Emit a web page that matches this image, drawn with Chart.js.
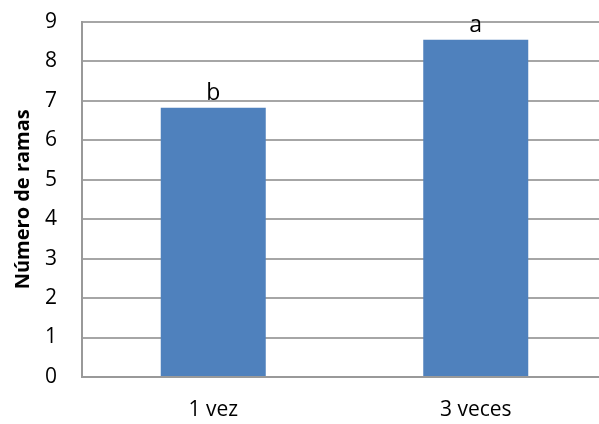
<!DOCTYPE html>
<html>
<head>
<meta charset="utf-8">
<script src="https://cdn.jsdelivr.net/npm/chart.js@4"></script>
<style>
  html, body { margin: 0; padding: 0; background: #fff; overflow: hidden; }
  #wrap { width: 608px; height: 440px; margin-top: -16px; }
</style>
</head>
<body>
<div id="wrap"><canvas id="grafica-ramas"></canvas></div>
<script>
var categorias = ['1 vez', '3 veces'];
var ramas = [6.82, 8.54];
var letras = ['b', 'a'];
var ticksY = [0, 9];

var fuente = '"Open Sans", "Liberation Sans", sans-serif';

// letras de significancia sobre cada barra
var letrasPlugin = {
    id: 'letras',
    afterDatasetsDraw: function(chart) {
        var ctx = chart.ctx;
        var meta = chart.getDatasetMeta(0);
        ctx.save();
        ctx.fillStyle = '#000';
        ctx.font = '23px ' + fuente;
        ctx.textAlign = 'center';
        ctx.textBaseline = 'alphabetic';
        meta.data.forEach(function(bar, i) {
            ctx.fillText(letras[i], bar.x, bar.y - 8);
        });
        ctx.restore();
    }
};

var ctx = document.getElementById('grafica-ramas').getContext('2d');
new Chart(ctx, {
    type: 'bar',
    data: {
        labels: categorias,
        datasets: [{
            data: ramas,
            backgroundColor: '#4f81bd',
            categoryPercentage: 1,
            barPercentage: 0.4
        }]
    },
    options: {
        responsive: true,
        maintainAspectRatio: false,
        animation: false,
        layout: { padding: { top: 0, right: 1, left: 0, bottom: 0 } },
        plugins: {
            legend: { display: false },
            tooltip: { enabled: false }
        },
        scales: {
            x: {
                afterFit: function(scale) { scale.height = 47; },
                grid: { display: false, drawTicks: false },
                border: { color: '#999', width: 2 },
                ticks: {
                    color: '#000',
                    padding: 20,
                    font: { family: fuente, size: 21 }
                }
            },
            y: {
                min: ticksY[0],
                max: ticksY[1],
                afterFit: function(scale) { scale.width = 82; },
                ticks: {
                    stepSize: 1,
                    color: '#000',
                    padding: 25,
                    font: { family: fuente, size: 21 }
                },
                grid: { color: '#a6a6a6', lineWidth: 2, drawTicks: false },
                border: { color: '#999', width: 2 },
                title: {
                    display: true,
                    text: 'Número de ramas',
                    color: '#000',
                    padding: { top: 11, bottom: 0 },
                    font: { family: fuente, size: 20, weight: 'bold' }
                }
            }
        }
    },
    plugins: [letrasPlugin]
});
</script>
</body>
</html>
